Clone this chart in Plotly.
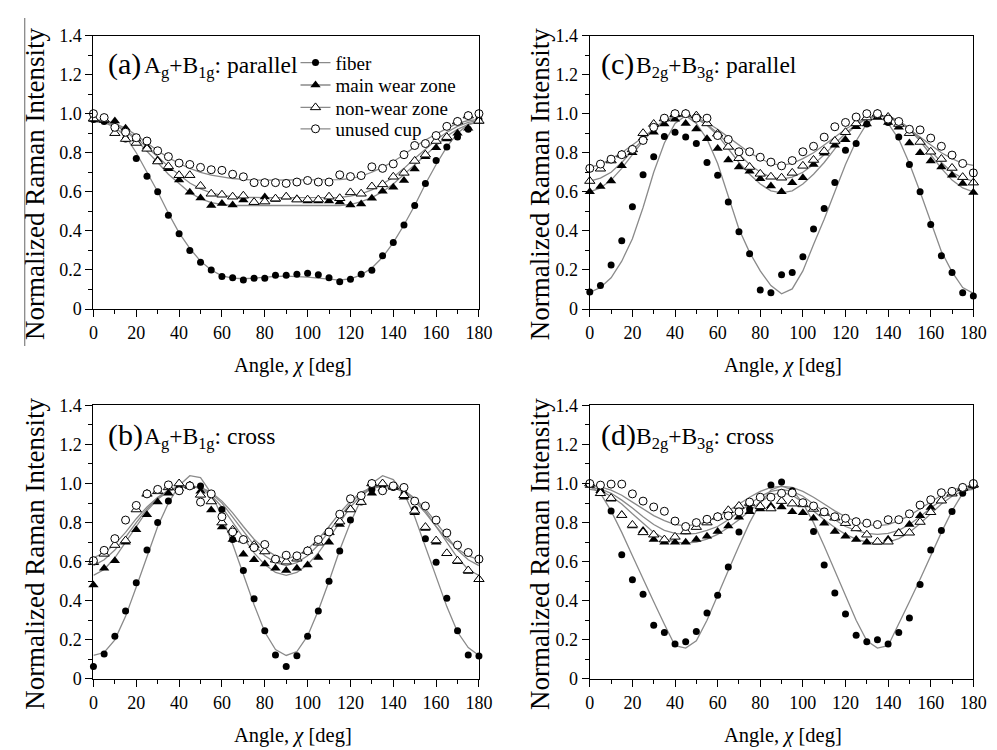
import plotly.graph_objects as go

angles = [0, 5, 10, 15, 20, 25, 30, 35, 40, 45, 50, 55, 60, 65, 70, 75, 80, 85, 90,
          95, 100, 105, 110, 115, 120, 125, 130, 135, 140, 145, 150, 155, 160, 165, 170, 175, 180]

series_names = ["fiber", "main wear zone", "non-wear zone", "unused cup"]

# ---------- (a) Ag+B1g parallel ----------
a_fiber = [0.97, 0.96, 0.93, 0.87, 0.77, 0.68, 0.60, 0.48, 0.385, 0.30, 0.24, 0.20, 0.167, 0.16, 0.148, 0.158, 0.158, 0.173, 0.173,
           0.178, 0.183, 0.175, 0.16, 0.14, 0.153, 0.178, 0.198, 0.273, 0.34, 0.43, 0.53, 0.643, 0.76, 0.83, 0.88, 0.92, 0.97]
a_main = [0.97, 0.965, 0.963, 0.925, 0.87, 0.83, 0.763, 0.718, 0.66, 0.598, 0.568, 0.53, 0.54, 0.533, 0.558, 0.545, 0.573, 0.56, 0.573,
          0.565, 0.553, 0.553, 0.553, 0.548, 0.532, 0.537, 0.567, 0.603, 0.623, 0.658, 0.717, 0.78, 0.825, 0.87, 0.90, 0.925, 0.96]
a_nonwear = [0.975, 0.97, 0.90, 0.87, 0.85, 0.82, 0.755, 0.73, 0.685, 0.685, 0.63, 0.59, 0.585, 0.575, 0.58, 0.547, 0.55, 0.565, 0.575,
             0.56, 0.56, 0.56, 0.575, 0.567, 0.597, 0.59, 0.627, 0.638, 0.677, 0.697, 0.758, 0.79, 0.86, 0.88, 0.96, 0.99, 0.963]
a_unused = [1.0, 0.98, 0.93, 0.905, 0.877, 0.86, 0.81, 0.78, 0.747, 0.74, 0.725, 0.713, 0.71, 0.69, 0.677, 0.647, 0.647, 0.647, 0.643,
            0.65, 0.658, 0.65, 0.65, 0.687, 0.678, 0.683, 0.728, 0.72, 0.743, 0.79, 0.837, 0.847, 0.888, 0.935, 0.96, 0.99, 1.0]
a_fiber_fit = [0.96, 0.955, 0.93, 0.885, 0.80, 0.70, 0.60, 0.49, 0.39, 0.31, 0.245, 0.20, 0.17, 0.158, 0.155, 0.158, 0.163, 0.167, 0.168,
               0.167, 0.163, 0.158, 0.152, 0.148, 0.155, 0.175, 0.21, 0.265, 0.34, 0.43, 0.53, 0.64, 0.74, 0.83, 0.90, 0.945, 0.96]
a_main_fit = [0.96, 0.955, 0.94, 0.91, 0.865, 0.81, 0.75, 0.69, 0.64, 0.595, 0.565, 0.545, 0.535, 0.53, 0.53, 0.53, 0.53, 0.53, 0.53,
              0.53, 0.53, 0.53, 0.53, 0.53, 0.535, 0.55, 0.57, 0.60, 0.64, 0.69, 0.74, 0.79, 0.84, 0.885, 0.92, 0.945, 0.955]
a_nonwear_fit = [0.965, 0.96, 0.945, 0.915, 0.875, 0.83, 0.78, 0.73, 0.685, 0.645, 0.615, 0.595, 0.582, 0.575, 0.572, 0.57, 0.57, 0.57, 0.57,
                 0.57, 0.57, 0.57, 0.57, 0.572, 0.578, 0.59, 0.61, 0.64, 0.675, 0.72, 0.77, 0.82, 0.865, 0.905, 0.935, 0.955, 0.965]
a_unused_fit = [0.97, 0.965, 0.95, 0.925, 0.89, 0.85, 0.81, 0.775, 0.745, 0.72, 0.70, 0.685, 0.675, 0.668, 0.664, 0.66, 0.66, 0.66, 0.66,
                0.66, 0.66, 0.66, 0.66, 0.662, 0.668, 0.68, 0.70, 0.725, 0.755, 0.79, 0.83, 0.865, 0.895, 0.925, 0.95, 0.965, 0.97]

# ---------- (c) B2g+B3g parallel ----------
c_fiber = [0.087, 0.12, 0.225, 0.35, 0.523, 0.687, 0.78, 0.883, 0.905, 0.88, 0.847, 0.75, 0.685, 0.548, 0.395, 0.283, 0.098, 0.083, 0.175,
           0.187, 0.267, 0.41, 0.515, 0.648, 0.813, 0.847, 0.947, 0.99, 0.955, 0.88, 0.74, 0.60, 0.433, 0.273, 0.187, 0.083, 0.067]
c_main = [0.60, 0.627, 0.655, 0.733, 0.80, 0.877, 0.905, 0.947, 0.972, 0.95, 0.922, 0.872, 0.822, 0.763, 0.727, 0.705, 0.667, 0.63, 0.60,
          0.647, 0.672, 0.74, 0.797, 0.838, 0.867, 0.933, 0.947, 0.98, 0.955, 0.93, 0.85, 0.80, 0.758, 0.727, 0.685, 0.643, 0.597]
c_nonwear = [0.655, 0.718, 0.76, 0.79, 0.817, 0.90, 0.947, 0.975, 0.997, 1.0, 0.99, 0.95, 0.897, 0.83, 0.772, 0.727, 0.692, 0.677, 0.672,
             0.697, 0.733, 0.763, 0.808, 0.86, 0.905, 0.95, 0.98, 1.0, 0.983, 0.947, 0.90, 0.855, 0.805, 0.768, 0.722, 0.675, 0.647]
c_unused = [0.72, 0.742, 0.767, 0.79, 0.817, 0.863, 0.93, 0.977, 1.0, 1.0, 0.977, 0.977, 0.888, 0.868, 0.805, 0.805, 0.777, 0.752, 0.733,
            0.76, 0.805, 0.833, 0.88, 0.933, 0.955, 0.983, 1.0, 1.0, 0.972, 0.96, 0.92, 0.917, 0.875, 0.833, 0.788, 0.745, 0.697]
c_fiber_fit = [0.085, 0.11, 0.16, 0.245, 0.36, 0.52, 0.70, 0.85, 0.95, 0.99, 0.95, 0.87, 0.745, 0.58, 0.41, 0.29, 0.195, 0.12, 0.078,
               0.103, 0.195, 0.33, 0.46, 0.60, 0.74, 0.86, 0.95, 0.99, 0.95, 0.87, 0.745, 0.60, 0.445, 0.295, 0.19, 0.11, 0.08]
c_main_fit = [0.60, 0.62, 0.66, 0.72, 0.79, 0.86, 0.92, 0.96, 0.985, 0.99, 0.975, 0.94, 0.89, 0.82, 0.75, 0.69, 0.64, 0.605, 0.595,
              0.605, 0.64, 0.69, 0.75, 0.82, 0.89, 0.94, 0.975, 0.99, 0.985, 0.96, 0.92, 0.86, 0.79, 0.72, 0.66, 0.62, 0.60]
c_nonwear_fit = [0.655, 0.67, 0.70, 0.75, 0.81, 0.87, 0.925, 0.965, 0.988, 0.99, 0.975, 0.945, 0.90, 0.845, 0.79, 0.74, 0.70, 0.675, 0.665,
                 0.675, 0.70, 0.74, 0.79, 0.845, 0.90, 0.945, 0.975, 0.99, 0.988, 0.965, 0.925, 0.87, 0.81, 0.75, 0.70, 0.67, 0.655]
c_unused_fit = [0.725, 0.74, 0.77, 0.80, 0.84, 0.88, 0.92, 0.955, 0.98, 0.99, 0.98, 0.955, 0.92, 0.88, 0.84, 0.80, 0.77, 0.745, 0.735,
                0.745, 0.77, 0.80, 0.84, 0.88, 0.92, 0.955, 0.98, 0.99, 0.98, 0.955, 0.92, 0.88, 0.84, 0.80, 0.77, 0.745, 0.735]

# ---------- (b) Ag+B1g cross ----------
b_fiber = [0.063, 0.127, 0.218, 0.347, 0.492, 0.66, 0.80, 0.91, 0.98, 0.99, 0.988, 0.943, 0.867, 0.713, 0.555, 0.41, 0.247, 0.122, 0.063,
           0.118, 0.218, 0.347, 0.50, 0.655, 0.813, 0.905, 0.97, 0.99, 0.98, 0.947, 0.867, 0.717, 0.597, 0.413, 0.247, 0.122, 0.117]
b_main = [0.48, 0.567, 0.605, 0.70, 0.763, 0.84, 0.905, 0.95, 0.975, 0.985, 0.96, 0.865, 0.777, 0.713, 0.638, 0.61, 0.588, 0.567, 0.555,
          0.567, 0.583, 0.622, 0.70, 0.79, 0.87, 0.905, 0.95, 0.975, 0.98, 0.93, 0.85, 0.77, 0.70, 0.64, 0.60, 0.55, 0.51]
b_nonwear = [0.597, 0.64, 0.685, 0.708, 0.867, 0.947, 0.96, 0.98, 1.0, 0.99, 0.942, 0.908, 0.80, 0.763, 0.713, 0.685, 0.652, 0.61, 0.60,
             0.615, 0.655, 0.697, 0.75, 0.805, 0.867, 0.905, 1.0, 1.0, 0.985, 0.94, 0.86, 0.777, 0.708, 0.643, 0.605, 0.555, 0.51]
b_unused = [0.605, 0.658, 0.718, 0.813, 0.888, 0.947, 0.97, 0.993, 0.963, 0.988, 0.905, 0.947, 0.83, 0.752, 0.713, 0.672, 0.688, 0.613, 0.633,
            0.63, 0.655, 0.713, 0.752, 0.843, 0.922, 0.938, 1.0, 0.963, 0.988, 0.98, 0.91, 0.885, 0.813, 0.747, 0.685, 0.647, 0.613]
b_fiber_fit = [0.12, 0.135, 0.20, 0.32, 0.47, 0.63, 0.78, 0.90, 0.99, 1.04, 1.03, 0.95, 0.83, 0.69, 0.53, 0.38, 0.24, 0.15, 0.12,
               0.14, 0.22, 0.35, 0.50, 0.66, 0.80, 0.92, 1.00, 1.04, 1.02, 0.95, 0.83, 0.68, 0.52, 0.37, 0.24, 0.16, 0.12]
b_main_fit = [0.53, 0.56, 0.62, 0.70, 0.78, 0.86, 0.92, 0.96, 0.98, 0.985, 0.975, 0.94, 0.88, 0.80, 0.72, 0.645, 0.585, 0.545, 0.53,
              0.545, 0.585, 0.645, 0.72, 0.80, 0.88, 0.94, 0.975, 0.985, 0.98, 0.96, 0.92, 0.86, 0.78, 0.70, 0.62, 0.56, 0.53]
b_nonwear_fit = [0.58, 0.61, 0.66, 0.725, 0.80, 0.87, 0.925, 0.965, 0.985, 0.99, 0.98, 0.95, 0.90, 0.83, 0.755, 0.685, 0.63, 0.595, 0.58,
                 0.595, 0.63, 0.685, 0.755, 0.83, 0.90, 0.95, 0.98, 0.99, 0.985, 0.965, 0.925, 0.87, 0.80, 0.725, 0.66, 0.61, 0.58]
b_unused_fit = [0.62, 0.645, 0.69, 0.75, 0.82, 0.88, 0.93, 0.965, 0.98, 0.985, 0.98, 0.955, 0.91, 0.85, 0.78, 0.715, 0.665, 0.63, 0.615,
                0.63, 0.665, 0.715, 0.78, 0.85, 0.91, 0.955, 0.98, 0.985, 0.98, 0.955, 0.91, 0.85, 0.78, 0.715, 0.665, 0.63, 0.61]

# ---------- (d) B2g+B3g cross ----------
d_fiber = [1.0, 0.963, 0.86, 0.635, 0.508, 0.433, 0.275, 0.237, 0.178, 0.19, 0.242, 0.337, 0.428, 0.573, 0.752, 0.87, 0.93, 0.993, 1.008,
           0.963, 0.90, 0.755, 0.583, 0.44, 0.332, 0.223, 0.19, 0.20, 0.178, 0.237, 0.312, 0.483, 0.66, 0.76, 0.857, 0.95, 0.99]
d_main = [0.99, 0.963, 0.92, 0.84, 0.783, 0.76, 0.713, 0.70, 0.70, 0.70, 0.713, 0.73, 0.755, 0.783, 0.827, 0.855, 0.87, 0.885, 0.88,
          0.855, 0.85, 0.822, 0.797, 0.755, 0.73, 0.713, 0.70, 0.70, 0.715, 0.75, 0.79, 0.835, 0.877, 0.913, 0.95, 0.975, 0.99]
d_nonwear = [1.0, 0.95, 0.925, 0.838, 0.788, 0.75, 0.738, 0.713, 0.727, 0.755, 0.777, 0.80, 0.83, 0.863, 0.885, 0.90, 0.883, 0.872, 0.91,
             0.897, 0.893, 0.87, 0.85, 0.825, 0.797, 0.77, 0.738, 0.702, 0.702, 0.745, 0.748, 0.803, 0.853, 0.912, 0.948, 0.978, 0.995]
d_unused = [1.0, 0.992, 0.997, 0.997, 0.947, 0.91, 0.88, 0.858, 0.808, 0.78, 0.80, 0.817, 0.83, 0.835, 0.855, 0.905, 0.93, 0.93, 0.95,
            0.952, 0.902, 0.885, 0.855, 0.83, 0.822, 0.805, 0.797, 0.79, 0.815, 0.815, 0.845, 0.89, 0.917, 0.953, 0.96, 0.98, 1.0]
d_fiber_fit = [0.985, 0.95, 0.86, 0.75, 0.63, 0.51, 0.395, 0.28, 0.17, 0.158, 0.195, 0.30, 0.43, 0.555, 0.68, 0.80, 0.90, 0.967, 0.988,
               0.967, 0.90, 0.80, 0.68, 0.555, 0.43, 0.30, 0.195, 0.158, 0.17, 0.28, 0.395, 0.51, 0.63, 0.75, 0.86, 0.95, 0.985]
d_main_fit = [0.97, 0.962, 0.935, 0.895, 0.845, 0.795, 0.75, 0.718, 0.70, 0.695, 0.70, 0.715, 0.74, 0.775, 0.815, 0.86, 0.905, 0.94, 0.955,
              0.94, 0.905, 0.86, 0.815, 0.775, 0.74, 0.715, 0.70, 0.695, 0.70, 0.718, 0.75, 0.795, 0.845, 0.895, 0.935, 0.962, 0.97]
d_nonwear_fit = [0.98, 0.972, 0.95, 0.915, 0.875, 0.83, 0.79, 0.76, 0.745, 0.74, 0.745, 0.76, 0.78, 0.815, 0.855, 0.895, 0.935, 0.96, 0.97,
                 0.96, 0.935, 0.895, 0.855, 0.815, 0.78, 0.76, 0.745, 0.74, 0.745, 0.76, 0.79, 0.83, 0.875, 0.915, 0.95, 0.972, 0.98]
d_unused_fit = [0.99, 0.983, 0.966, 0.94, 0.905, 0.87, 0.836, 0.81, 0.79, 0.785, 0.79, 0.805, 0.83, 0.86, 0.895, 0.93, 0.96, 0.98, 0.985,
                0.98, 0.96, 0.93, 0.895, 0.86, 0.83, 0.805, 0.79, 0.785, 0.79, 0.81, 0.836, 0.87, 0.905, 0.94, 0.966, 0.983, 0.99]

x_tickvals = [0, 20, 40, 60, 80, 100, 120, 140, 160, 180]
y_tickvals = [0, 0.2, 0.4, 0.6, 0.8, 1.0, 1.2, 1.4]
y_ticktext = ["0", "0.2", "0.4", "0.6", "0.8", "1.0", "1.2", "1.4"]

FONT = "Liberation Serif"
W, H = 997, 750
FIT_COLOR = "#8a8a8a"

marker_styles = [
    dict(symbol="circle", size=7, color="black", line=dict(width=0)),
    dict(symbol="triangle-up", size=9, color="black", line=dict(width=0)),
    dict(symbol="triangle-up", size=9, color="white", line=dict(width=1, color="black")),
    dict(symbol="circle", size=8, color="white", line=dict(width=1, color="black")),
]

panels = [
    ("x", "y", [a_fiber, a_main, a_nonwear, a_unused], [a_fiber_fit, a_main_fit, a_nonwear_fit, a_unused_fit]),
    ("x2", "y2", [c_fiber, c_main, c_nonwear, c_unused], [c_fiber_fit, c_main_fit, c_nonwear_fit, c_unused_fit]),
    ("x3", "y3", [b_fiber, b_main, b_nonwear, b_unused], [b_fiber_fit, b_main_fit, b_nonwear_fit, b_unused_fit]),
    ("x4", "y4", [d_fiber, d_main, d_nonwear, d_unused], [d_fiber_fit, d_main_fit, d_nonwear_fit, d_unused_fit]),
]

fig = go.Figure()
for xa, ya, pts, fits in panels:
    for fit in fits:
        fig.add_trace(go.Scatter(x=angles, y=fit, mode="lines", xaxis=xa, yaxis=ya,
                                 line=dict(color=FIT_COLOR, width=1.3), showlegend=False,
                                 cliponaxis=False, hoverinfo="skip"))
    for vals, ms in zip(pts, marker_styles):
        fig.add_trace(go.Scatter(x=angles, y=vals, mode="markers", xaxis=xa, yaxis=ya,
                                 marker=ms, showlegend=False, cliponaxis=False))

# legend entries (panel a): one small legend per entry so the spacing can follow the original
legend_ids = ["legend", "legend2", "legend3", "legend4"]
legend_rows = [46, 69, 92, 114]
for name, ms, lid in zip(series_names, marker_styles, legend_ids):
    fig.add_trace(go.Scatter(x=[None], y=[None], mode="lines+markers", name=name,
                             xaxis="x", yaxis="y", marker=ms, legend=lid,
                             line=dict(color=FIT_COLOR, width=1.3), showlegend=True))

# domains in pixels
dom = {
    "1": ((82, 475), (18, 299)),
    "2": ((588, 979), (18, 299)),
    "3": ((82, 475), (398, 679)),
    "4": ((588, 979), (398, 679)),
}

axis_common = dict(showline=True, linecolor="black", linewidth=1.3, mirror=True,
                   ticks="outside", tickcolor="black", tickwidth=1.2, ticklen=7,
                   showgrid=False, zeroline=False,
                   tickfont=dict(family=FONT, size=18, color="black"))

layout_axes = {}
for k, ((x0, x1), (y0, y1)) in dom.items():
    sx = "xaxis" if k == "1" else "xaxis" + k
    sy = "yaxis" if k == "1" else "yaxis" + k
    layout_axes[sx] = dict(axis_common, domain=[x0 / W, x1 / W], range=[0, 180],
                           tickvals=x_tickvals, anchor="y" if k == "1" else "y" + k,
                           minor=dict(ticks="outside", ticklen=4, tickwidth=1.1, tickcolor="black",
                                      tick0=0, dtick=10, showgrid=False))
    layout_axes[sy] = dict(axis_common, domain=[1 - y1 / H, 1 - y0 / H], range=[0, 1.4],
                           tickvals=y_tickvals, ticktext=y_ticktext, anchor="x" if k == "1" else "x" + k,
                           minor=dict(ticks="outside", ticklen=4, tickwidth=1.1, tickcolor="black",
                                      tick0=0, dtick=0.1, showgrid=False))

legend_layouts = {}
for lid, row in zip(legend_ids, legend_rows):
    legend_layouts[lid] = dict(x=288 / W, y=1 - row / H, xanchor="left", yanchor="middle",
                               bgcolor="rgba(0,0,0,0)", borderwidth=0, tracegroupgap=0,
                               font=dict(family=FONT, size=19, color="black"), itemwidth=30)

annotations = []

def ann(text, px, py, size, xanchor="left", yanchor="middle", angle=0):
    annotations.append(dict(text=text, x=px / W, y=1 - py / H, xref="paper", yref="paper",
                            xanchor=xanchor, yanchor=yanchor, showarrow=False, textangle=angle,
                            font=dict(family=FONT, size=size, color="black")))

# panel titles
titles = [
    ("(a)", "A<sub>g</sub>+B<sub>1g</sub>: parallel", 95, 131, 47),
    ("(c)", "B<sub>2g</sub>+B<sub>3g</sub>: parallel", 597, 633, 47),
    ("(b)", "A<sub>g</sub>+B<sub>1g</sub>: cross", 95, 131, 428),
    ("(d)", "B<sub>2g</sub>+B<sub>3g</sub>: cross", 597, 633, 428),
]
for lab, txt, lx, tx, ty in titles:
    ann(lab, lx, ty, 30)
    ann(txt, tx, ty + 3, 23.5)

# axis titles
for cx in (23, 538):
    for cy in (171, 551):
        ann("Normalized Raman Intensity", cx, cy, 27, xanchor="center", angle=-90)
for cx in (285, 785):
    for cy in (357, 737):
        ann("Angle, <i>χ</i> [deg]", cx, cy, 20.5, xanchor="center")

fig.update_layout(
    width=W, height=H, margin=dict(l=0, r=0, t=0, b=0),
    paper_bgcolor="white", plot_bgcolor="white",
    font=dict(family=FONT, color="black"),
    showlegend=True,
    annotations=annotations,
    shapes=[dict(type="line", xref="paper", yref="paper", x0=12 / W, x1=12 / W,
                 y0=1, y1=1 - 337 / H, line=dict(color="#666666", width=1))],
    **legend_layouts,
    **layout_axes,
)

fig.write_html("out.html")
